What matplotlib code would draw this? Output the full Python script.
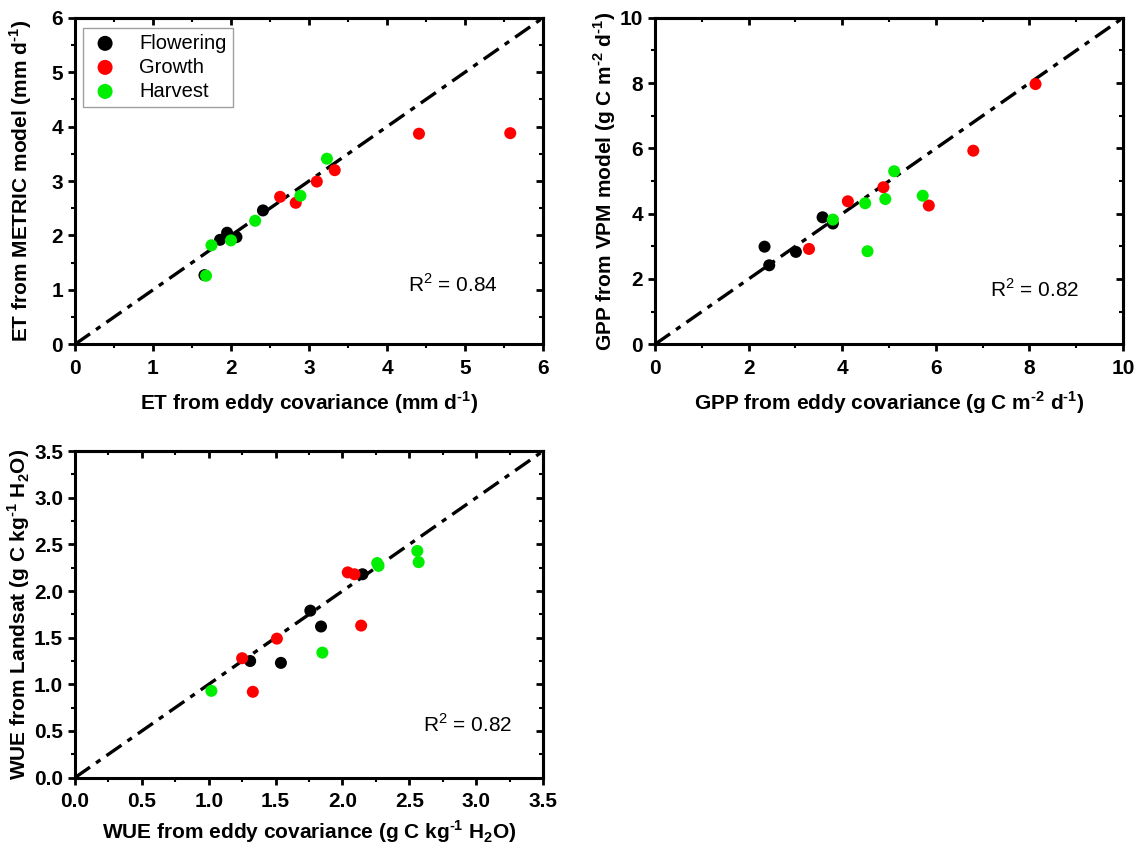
import numpy as np
import matplotlib
matplotlib.use("Agg")
import matplotlib.pyplot as plt
from matplotlib.ticker import AutoMinorLocator

plt.rcParams['font.family'] = ['Liberation Sans', 'DejaVu Sans']
plt.rcParams['mathtext.fontset'] = 'custom'
plt.rcParams['mathtext.rm'] = 'Liberation Sans:bold'
plt.rcParams['mathtext.bf'] = 'Liberation Sans:bold'
plt.rcParams['mathtext.sf'] = 'Liberation Sans'

stages = ['Flowering', 'Growth', 'Harvest']
colors = {'Flowering': '#000000', 'Growth': '#ff0000', 'Harvest': '#00ee00'}

# ET (mm/d): eddy covariance vs METRIC
et_ec = {
    'Flowering': [1.66, 1.86, 1.95, 2.07, 2.41],
    'Growth':    [2.63, 2.83, 3.10, 3.33, 4.41, 5.58],
    'Harvest':   [1.68, 1.75, 2.00, 2.31, 2.89, 3.23],
}
et_model = {
    'Flowering': [1.27, 1.92, 2.05, 1.97, 2.46],
    'Growth':    [2.71, 2.60, 2.99, 3.20, 3.87, 3.88],
    'Harvest':   [1.26, 1.82, 1.91, 2.27, 2.73, 3.41],
}

# GPP (g C m-2 d-1): eddy covariance vs VPM
gpp_ec = {
    'Flowering': [2.34, 2.44, 3.01, 3.58, 3.80],
    'Growth':    [3.29, 4.12, 4.88, 5.85, 6.80, 8.13],
    'Harvest':   [3.80, 4.49, 4.54, 4.92, 5.11, 5.72],
}
gpp_model = {
    'Flowering': [2.99, 2.42, 2.83, 3.89, 3.70],
    'Growth':    [2.92, 4.38, 4.81, 4.25, 5.93, 7.97],
    'Harvest':   [3.82, 4.32, 2.85, 4.45, 5.30, 4.55],
}

# WUE (g C kg-1 H2O): eddy covariance vs Landsat
wue_ec = {
    'Flowering': [1.31, 1.54, 1.76, 1.84, 2.15],
    'Growth':    [1.25, 1.33, 1.51, 2.04, 2.09, 2.14],
    'Harvest':   [1.02, 1.85, 2.26, 2.27, 2.56, 2.57],
}
wue_model = {
    'Flowering': [1.25, 1.23, 1.79, 1.62, 2.18],
    'Growth':    [1.28, 0.92, 1.49, 2.20, 2.18, 1.63],
    'Harvest':   [0.93, 1.34, 2.30, 2.27, 2.43, 2.31],
}

panels = [
    dict(rect=[0.066, 0.594, 0.412, 0.385], x=et_ec, y=et_model, lim=6, step=1, fmt='%d',
         xlabel=r'ET from eddy covariance (mm d$^{\text{-1}}$)',
         ylabel=r'ET from METRIC model (mm d$^{\text{-1}}$)',
         r2=r'R$^{\mathsf{2}}$ = 0.84', r2pos=(4.27, 1.09), legend=True,
         xlab_y=-0.178, ylab_x=-0.115),
    dict(rect=[0.5766, 0.594, 0.412, 0.385], x=gpp_ec, y=gpp_model, lim=10, step=2, fmt='%d',
         xlabel=r'GPP from eddy covariance (g C m$^{\text{-2}}$ d$^{\text{-1}}$)',
         ylabel=r'GPP from VPM model (g C m$^{\text{-2}}$ d$^{\text{-1}}$)',
         r2=r'R$^{\mathsf{2}}$ = 0.82', r2pos=(7.16, 1.69), legend=False,
         xlab_y=-0.178, ylab_x=-0.107),
    dict(rect=[0.066, 0.083, 0.412, 0.385], x=wue_ec, y=wue_model, lim=3.5, step=0.5, fmt='%.1f',
         xlabel=r'WUE from eddy covariance (g C kg$^{\text{-1}}$ H$_{\text{2}}$O)',
         ylabel=r'WUE from Landsat (g C kg$^{\text{-1}}$ H$_{\text{2}}$O)',
         r2=r'R$^{\mathsf{2}}$ = 0.82', r2pos=(2.6, 0.57), legend=False,
         xlab_y=-0.165, ylab_x=-0.12),
]

fig = plt.figure(figsize=(11.36, 8.48), dpi=100)

for p in panels:
    ax = fig.add_axes(p['rect'])
    lim = p['lim']
    ax.plot([0, lim], [0, lim], color='black', lw=2.4, dashes=[5.5, 2.2, 1.6, 2.2], zorder=1)
    for s in stages:
        ax.scatter(p['x'][s], p['y'][s], s=75, color=colors[s], label=s,
                   edgecolors='none', zorder=3)
    ax.set_xlim(0, lim)
    ax.set_ylim(0, lim)

    ticks = np.arange(0, lim + p['step'] / 2, p['step'])
    ax.set_xticks(ticks)
    ax.set_yticks(ticks)
    ax.set_xticklabels([p['fmt'] % t for t in ticks])
    ax.set_yticklabels([p['fmt'] % t for t in ticks])
    ax.xaxis.set_minor_locator(AutoMinorLocator(2))
    ax.yaxis.set_minor_locator(AutoMinorLocator(2))
    ax.tick_params(which='major', direction='out', length=5, width=2, labelsize=15)
    ax.tick_params(axis='x', which='major', pad=5.5)
    ax.tick_params(axis='y', which='major', pad=3.5)
    ax.tick_params(which='minor', direction='out', length=3, width=1.5)
    for lab in ax.get_xticklabels() + ax.get_yticklabels():
        lab.set_fontweight('bold')

    # inward ticks on the top and right frames
    top = ax.secondary_xaxis('top')
    right = ax.secondary_yaxis('right')
    for sec in (top, right):
        sec.set_ticks(ticks)
        sec.tick_params(which='major', direction='in', length=5, width=2,
                        labeltop=False, labelright=False)
        sec.tick_params(which='minor', direction='in', length=3, width=1.5)
    top.xaxis.set_minor_locator(AutoMinorLocator(2))
    right.yaxis.set_minor_locator(AutoMinorLocator(2))
    top.set_xticklabels([])
    right.set_yticklabels([])

    for sp in list(ax.spines.values()) + [top.spines['top'], right.spines['right']]:
        sp.set_linewidth(2.2)

    ax.set_xlabel(p['xlabel'], fontsize=15, fontweight='bold', va='center')
    ax.set_ylabel(p['ylabel'], fontsize=15, fontweight='bold', va='center')
    ax.xaxis.set_label_coords(0.5, p['xlab_y'])
    ax.yaxis.set_label_coords(p['ylab_x'], 0.5)
    ax.text(p['r2pos'][0], p['r2pos'][1], p['r2'], fontsize=15, va='center', ha='left')

    if p['legend']:
        leg = ax.legend(loc='upper left', bbox_to_anchor=(0.017, 0.97), fontsize=14.5,
                        frameon=True, fancybox=False, edgecolor='#888888',
                        handletextpad=0.9, borderpad=0.3, labelspacing=0.25,
                        handlelength=1.6, borderaxespad=0, markerscale=1.25)
        leg.get_frame().set_linewidth(1.0)

fig.savefig('out.png', dpi=100)
